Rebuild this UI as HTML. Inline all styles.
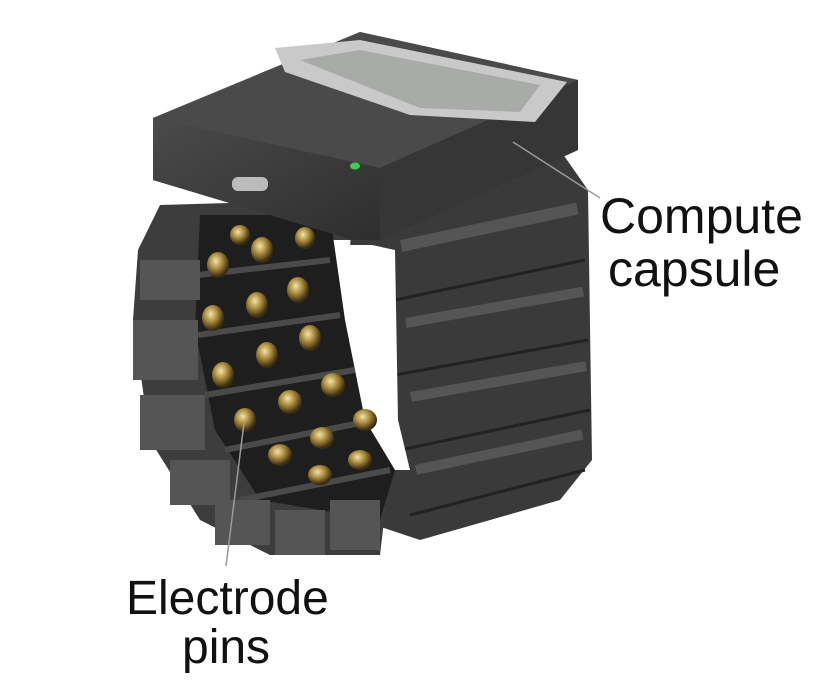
<!DOCTYPE html>
<html><head><style>
body{margin:0;background:#fff;width:815px;height:694px;overflow:hidden}
svg{display:block}
text{font-family:"Liberation Sans",sans-serif;fill:#111}
</style></head><body>
<svg width="815" height="694" viewBox="0 0 815 694">
<defs>
<linearGradient id="gd" x1="0" y1="0" x2="1" y2="1"><stop offset="0" stop-color="#4a4a4a"/><stop offset="1" stop-color="#2e2e2e"/></linearGradient>
<radialGradient id="pin" cx="0.4" cy="0.35" r="0.6"><stop offset="0" stop-color="#f3e4a8"/><stop offset="0.5" stop-color="#a88a3c"/><stop offset="1" stop-color="#3a2e10"/></radialGradient>
</defs>
<!-- right band -->
<path d="M352,200 L560,150 L588,190 L592,460 L560,500 L420,540 L360,520 L345,380 Z" fill="#3a3a3a"/>
<g stroke="#222" stroke-width="3" fill="none">
<path d="M395,300 L585,260"/><path d="M395,375 L588,340"/><path d="M400,450 L590,410"/><path d="M410,515 L585,470"/>
</g>
<g fill="#555">
<rect x="400" y="240" width="180" height="12" transform="rotate(-12 400 240)"/>
<rect x="405" y="318" width="180" height="10" transform="rotate(-10 405 318)"/>
<rect x="410" y="392" width="178" height="10" transform="rotate(-10 410 392)"/>
<rect x="415" y="465" width="170" height="10" transform="rotate(-12 415 465)"/>
</g>
<!-- left band -->
<path d="M160,205 L330,200 L355,240 L330,240 L345,420 L390,470 L380,555 L270,555 L200,520 L150,440 L133,320 L138,250 Z" fill="#3d3d3d"/>
<!-- hole -->
<path d="M335,245 L372,245 L395,250 L398,420 L410,470 L385,470 L365,420 L345,330 Z" fill="#fff"/>
<!-- inner pin region -->
<path d="M200,215 L330,215 L345,320 L365,420 L395,470 L380,520 L260,500 L215,430 L195,330 Z" fill="#1e1e1e"/>
<g stroke="#4a4a4a" stroke-width="6" fill="none">
<path d="M198,275 L330,260"/><path d="M198,335 L340,315"/><path d="M205,395 L355,370"/><path d="M225,450 L375,420"/><path d="M240,500 L390,470"/>
</g>
<g fill="#555">
<rect x="140" y="260" width="60" height="40"/><rect x="133" y="320" width="65" height="60"/><rect x="140" y="395" width="65" height="55"/><rect x="170" y="460" width="60" height="45"/><rect x="215" y="500" width="55" height="45"/><rect x="275" y="510" width="50" height="45"/><rect x="330" y="500" width="50" height="50"/>
</g>
<g fill="url(#pin)">
<ellipse cx="218" cy="265" rx="11" ry="13"/><ellipse cx="262" cy="250" rx="11" ry="13"/><ellipse cx="305" cy="238" rx="10" ry="11"/><ellipse cx="240" cy="235" rx="10" ry="10"/>
<ellipse cx="213" cy="318" rx="11" ry="13"/><ellipse cx="257" cy="305" rx="11" ry="13"/><ellipse cx="298" cy="290" rx="11" ry="13"/>
<ellipse cx="223" cy="375" rx="11" ry="13"/><ellipse cx="267" cy="355" rx="11" ry="13"/><ellipse cx="310" cy="338" rx="11" ry="13"/>
<ellipse cx="245" cy="420" rx="11" ry="12"/><ellipse cx="290" cy="402" rx="12" ry="12"/><ellipse cx="333" cy="385" rx="12" ry="12"/>
<ellipse cx="280" cy="455" rx="12" ry="11"/><ellipse cx="322" cy="438" rx="12" ry="11"/><ellipse cx="365" cy="420" rx="12" ry="11"/>
<ellipse cx="320" cy="475" rx="12" ry="10"/><ellipse cx="360" cy="460" rx="12" ry="10"/>
</g>
<!-- capsule -->
<path d="M153,118 L360,32 L578,80 L578,150 L380,240 L353,240 L153,180 Z" fill="#3a3a3a"/>
<path d="M153,118 L360,32 L578,80 L380,168 Z" fill="#4a4a4a"/>
<path d="M153,118 L380,168 L380,240 L353,240 L153,180 Z" fill="url(#gd)"/>
<path d="M380,168 L578,80 L578,150 L380,240 Z" fill="#363636"/>
<path d="M275,48 L360,40 L567,82 L535,122 L410,115 L285,72 Z" fill="#c9c9c9"/>
<path d="M300,60 L360,50 L540,85 L520,112 L420,108 Z" fill="#a8aba8"/>
<ellipse cx="355" cy="166" rx="5" ry="3.5" fill="#3ccf4a"/>
<rect x="232" y="177" width="36" height="14" rx="6" fill="#bbb"/>
<!-- leader lines -->
<line x1="513" y1="142" x2="600" y2="198" stroke="#999" stroke-width="1.5"/>
<line x1="244" y1="423" x2="226" y2="566" stroke="#999" stroke-width="1.5"/>
<text x="600" y="233" font-size="50">Compute</text>
<text x="608" y="286" font-size="50">capsule</text>
<text x="126" y="614" font-size="48">Electrode</text>
<text x="182" y="663" font-size="48">pins</text>
</svg>
</body></html>
